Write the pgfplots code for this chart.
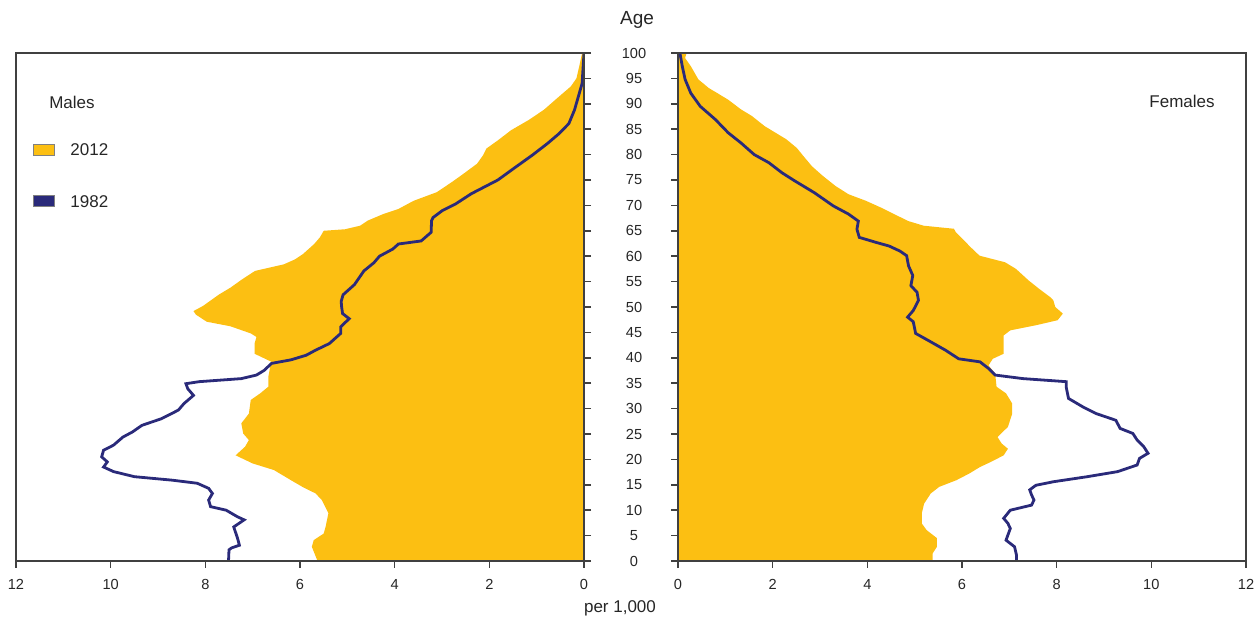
\documentclass[border=0pt]{standalone}
\usepackage{pgfplots}
\pgfplotsset{compat=1.18}
\usepackage{fontspec}
\setmainfont{Liberation Sans}
\definecolor{ylw}{HTML}{FCBF12}
\definecolor{nvy}{HTML}{2A2A7A}
\definecolor{axg}{HTML}{404040}
\begin{document}
\begin{tikzpicture}
\pgfplotsset{
  pyr/.style={
    scale only axis, width=284pt, height=254pt,
    xmin=0, xmax=12, ymin=0, ymax=100,
    xtick={0,2,...,12}, ytick={0,5,...,100},
    tick align=outside, major tick length=3.5pt,
    axis line style={axg, line width=0.8pt},
    every tick/.style={axg, line width=0.8pt},
    tick label style={font=\fontsize{7.3}{8}\selectfont, text=black!85},
    /pgf/number format/assume math mode=true,
    xtick pos=bottom,
    xticklabel style={anchor=center, yshift=-8pt},
    axis on top,
  }
}
% ---------------- Males ----------------
\begin{axis}[pyr, at={(8pt,29pt)}, anchor=south west,
  x dir=reverse, ytick pos=right, yticklabels={}]
\addplot[fill=ylw, draw=none] coordinates {
(0,0) (5.63,0) (5.75,2.8) (5.71,4.1) (5.50,5.4) (5.46,6.7) (5.40,9.4) (5.54,12) (5.67,13.3)
(5.95,14.6) (6.19,15.9) (6.55,17.9) (7.0,19.2) (7.36,20.8) (7.16,22.5) (7.08,23.8) (7.2,25.1)
(7.24,27.1) (7.08,29) (7.04,31.7) (6.84,33) (6.67,34.3) (6.67,36.2) (6.63,38.2) (6.6,39.2)
(6.96,40.8) (6.96,42.8) (6.92,44.1) (7.04,44.8) (7.47,46.2) (7.97,47.1) (8.2,48.5) (8.25,49.2)
(8.05,50.2) (7.96,50.8) (7.72,52.4) (7.47,53.8) (7.23,55.4) (6.95,57.1) (6.34,58.4) (6.1,59.4)
(5.94,60.4) (5.7,62.4) (5.58,63.7) (5.5,65) (5.05,65.3) (4.73,66) (4.57,67) (4.24,68.3)
(3.92,69.3) (3.6,70.9) (3.11,72.6) (2.79,74.6) (2.55,76.2) (2.26,78.2) (2.13,79.9) (2.06,81.2)
(1.82,82.8) (1.54,84.8) (1.17,86.8) (0.85,88.8) (0.53,91.4) (0.28,93.4) (0.16,95) (0.1,97.4)
(0.04,100) (0,100)} -- cycle;
\addplot[nvy, line width=1.4pt] coordinates {
(7.51,0) (7.5,2.2) (7.44,2.6) (7.28,3.1) (7.32,4.5) (7.4,6.7) (7.18,8.1) (7.32,8.7) (7.56,10)
(7.89,10.7) (7.93,12) (7.85,13.3) (7.93,14.3) (8.17,15.3) (8.69,15.9) (9.5,16.6) (9.94,17.6)
(10.15,18.5) (10.07,19.5) (10.19,20.5) (10.15,21.8) (9.94,22.8) (9.74,24.4) (9.54,25.4)
(9.34,26.7) (8.93,28) (8.57,29.7) (8.45,31) (8.25,32.6) (8.37,33.9) (8.41,34.9) (8.13,35.3)
(7.24,35.9) (6.92,36.6) (6.76,37.5) (6.6,38.9) (6.19,39.6) (5.87,40.5) (5.67,41.5) (5.38,42.8)
(5.14,44.8) (5.14,46.1) (4.96,47.7) (5.10,48.7) (5.12,50) (5.13,51.1) (5.09,52.4) (4.85,54.4)
(4.65,57.1) (4.44,58.7) (4.32,60) (4.04,61.4) (3.92,62.4) (3.44,63) (3.23,64.7) (3.22,67)
(3.19,67.6) (2.99,69) (2.71,70.3) (2.38,72.3) (1.82,75) (1.45,77.5) (1.09,79.9) (0.77,82.2)
(0.53,84.1) (0.32,86.1) (0.2,88.8) (0.12,91.4) (0.04,94) (0,100)};
\end{axis}
% ---------------- Females ----------------
\begin{axis}[pyr, at={(339pt,29pt)}, anchor=south west,
  ytick pos=left, yticklabel style={anchor=center, xshift=-18.5pt}]
\addplot[fill=ylw, draw=none] coordinates {
(0,0) (5.38,0) (5.38,1.5) (5.47,2.8) (5.47,4.5) (5.25,6.1) (5.15,7.4) (5.15,9.4) (5.2,11.3)
(5.34,13.3) (5.52,14.6) (5.88,15.9) (6.15,17.2) (6.38,18.5) (6.61,19.5) (6.88,20.8) (6.97,22.1)
(6.84,23.1) (6.75,24.4) (6.97,26.4) (7.06,29) (7.06,31) (6.93,33) (6.73,34.3) (6.7,36.9)
(6.56,38.5) (6.65,39.8) (6.88,40.8) (6.88,44.4) (7.02,45.4) (7.56,46.4) (8.02,47.4) (8.13,48.7)
(7.97,50) (7.93,51.3) (7.87,51.9) (7.64,53.5) (7.41,55.2) (7.14,57.5) (6.91,58.8) (6.37,60.1)
(6.19,61.7) (6.01,63.4) (5.87,64.7) (5.83,65.4) (5.19,66) (4.87,66.9) (4.56,68.3) (4.28,69.6)
(3.97,70.9) (3.6,72.2) (3.33,73.8) (3.06,75.8) (2.83,77.7) (2.65,79.7) (2.51,81.3) (2.29,83)
(1.83,85.6) (1.56,87.6) (1.33,88.9) (1.06,90.8) (0.83,92.1) (0.65,93.1) (0.43,94.8) (0.27,97.4)
(0.15,99) (0.18,100) (0,100)} -- cycle;
\addplot[nvy, line width=1.4pt] coordinates {
(7.15,0) (7.15,1.2) (7.11,2.8) (6.93,4.1) (7.02,6.4) (6.97,7.4) (6.88,8.4) (7.02,10) (7.47,11)
(7.52,12) (7.47,13) (7.43,14) (7.56,14.9) (7.93,15.6) (8.65,16.6) (9.29,17.6) (9.7,18.9)
(9.75,20.2) (9.93,21.2) (9.84,22.5) (9.7,23.8) (9.61,25.1) (9.34,26.1) (9.25,27.7) (8.84,29)
(8.56,30.3) (8.25,32) (8.2,34.3) (8.2,35.3) (7.29,35.9) (6.7,36.6) (6.56,37.9) (6.38,39.2)
(5.93,39.8) (5.65,41.5) (5.29,43.4) (5.02,44.8) (4.97,47.1) (4.85,48) (4.97,49.3) (5.08,51.3)
(5.05,52.9) (4.92,54.2) (4.96,56.2) (4.87,58.1) (4.83,60.1) (4.69,61) (4.46,62) (4.19,62.7)
(3.83,63.7) (3.78,65.3) (3.81,66.9) (3.6,68.3) (3.28,69.9) (2.88,72.5) (2.47,74.8) (2.2,76.4)
(1.92,78.4) (1.61,80) (1.33,82.3) (1.06,84.3) (0.79,86.9) (0.47,89.5) (0.27,92.1) (0.15,94.8)
(0.09,97.4) (0.04,100)};
\end{axis}
% ---------------- Labels and legend ----------------
\node[font=\fontsize{9.5}{11}\selectfont, text=black!85] at (318.5pt,299.5pt) {Age};
\node[font=\fontsize{8.5}{10}\selectfont, text=black!85] at (310pt,5.5pt) {per 1,000};
\node[font=\fontsize{8.5}{10}\selectfont, text=black!85] at (36pt,258.5pt) {Males};
\node[font=\fontsize{8.5}{10}\selectfont, text=black!85] at (591pt,259pt) {Females};
\filldraw[fill=ylw, draw=gray, line width=0.5pt] (16.5pt,231.5pt) rectangle (27pt,237pt);
\filldraw[fill=nvy, draw=gray, line width=0.5pt] (16.5pt,206pt) rectangle (27pt,211.5pt);
\node[font=\fontsize{8.5}{10}\selectfont, text=black!85, anchor=west, inner sep=0pt] at (35pt,234.5pt) {2012};
\node[font=\fontsize{8.5}{10}\selectfont, text=black!85, anchor=west, inner sep=0pt] at (35pt,208.5pt) {1982};
\pgfresetboundingbox
\path[use as bounding box] (0,0) rectangle (628pt,309.5pt);
\end{tikzpicture}
\end{document}
